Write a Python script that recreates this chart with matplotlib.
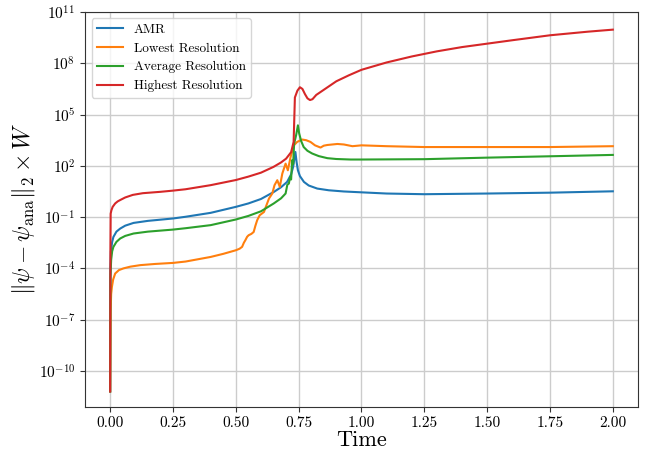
"""
plot.py - L2 error of psi against the analytic solution, AMR vs fixed resolutions.
"""
import numpy as np
import matplotlib
matplotlib.use("Agg")
import matplotlib.pyplot as plt
from matplotlib.ticker import FixedLocator, NullLocator

plt.rcParams["font.family"] = "serif"
plt.rcParams["font.serif"] = ["cmr10"]
plt.rcParams["mathtext.fontset"] = "cm"
plt.rcParams["axes.unicode_minus"] = False
plt.rcParams["axes.formatter.use_mathtext"] = True

# values, stored as log10 of the error
t_amr = [0.0, 0.001, 0.003, 0.008, 0.013, 0.025, 0.04, 0.06, 0.093, 0.15, 0.25, 0.3,
         0.4, 0.5, 0.55, 0.6, 0.651, 0.68, 0.704, 0.72, 0.728, 0.737, 0.742, 0.747,
         0.755, 0.771, 0.79, 0.824, 0.87, 0.93, 1.0, 1.1, 1.25, 1.5, 1.75, 2.0]
log_amr = [-11.2, -4.0, -3.0, -2.45, -2.16, -1.85, -1.67, -1.5, -1.34, -1.22, -1.08, -0.98,
           -0.75, -0.4, -0.2, 0.06, 0.47, 0.75, 1.06, 1.5, 1.94, 2.81, 2.2, 1.74,
           1.4, 1.06, 0.85, 0.67, 0.57, 0.5, 0.45, 0.38, 0.34, 0.38, 0.43, 0.51]

t_low = [0.0, 0.002, 0.004, 0.007, 0.012, 0.02, 0.035, 0.053, 0.08, 0.12, 0.18, 0.25,
         0.3, 0.4, 0.45, 0.5, 0.515, 0.525, 0.532, 0.538, 0.545, 0.551, 0.562, 0.571,
         0.578, 0.585, 0.595, 0.612, 0.622, 0.632, 0.645, 0.654, 0.665, 0.675, 0.685,
         0.698, 0.707, 0.718, 0.731, 0.744, 0.764, 0.78, 0.797, 0.815, 0.837, 0.85,
         0.864, 0.904, 0.93, 0.964, 1.0, 1.1, 1.25, 1.5, 1.75, 2.0]
log_low = [-11.2, -6.5, -5.5, -5.08, -4.65, -4.3, -4.1, -4.0, -3.9, -3.81, -3.74, -3.68,
           -3.6, -3.33, -3.15, -2.94, -2.85, -2.74, -2.5, -2.35, -2.15, -2.06, -1.98, -1.87,
           -1.5, -1.18, -0.89, -0.7, -0.3, 0.09, 0.38, 0.87, 1.16, 0.77, 1.55,
           2.13, 1.74, 2.52, 3.2, 3.4, 3.54, 3.5, 3.4, 3.2, 3.07, 3.18,
           3.22, 3.28, 3.25, 3.15, 3.2, 3.15, 3.1, 3.1, 3.1, 3.15]

t_avg = [0.0, 0.001, 0.004, 0.008, 0.013, 0.025, 0.04, 0.06, 0.093, 0.15, 0.25, 0.3,
         0.4, 0.5, 0.55, 0.6, 0.651, 0.68, 0.698, 0.705, 0.711, 0.716, 0.72, 0.724,
         0.728, 0.732, 0.74, 0.747, 0.752, 0.76, 0.77, 0.785, 0.804, 0.83, 0.864,
         0.9, 0.957, 1.0, 1.25, 1.5, 1.75, 2.0]
log_avg = [-11.2, -4.5, -3.5, -3.0, -2.74, -2.45, -2.25, -2.1, -1.96, -1.85, -1.73, -1.65,
           -1.47, -1.14, -0.93, -0.66, -0.2, 0.1, 0.38, 0.9, 0.96, 1.35, 1.2, 2.33,
           2.1, 3.3, 3.8, 4.37, 3.9, 3.45, 3.1, 2.88, 2.72, 2.57, 2.45,
           2.4, 2.37, 2.37, 2.39, 2.48, 2.56, 2.64]

t_high = [0.0, 0.001, 0.002, 0.005, 0.01, 0.02, 0.03, 0.04, 0.06, 0.09, 0.13, 0.2,
          0.25, 0.3, 0.4, 0.5, 0.55, 0.6, 0.65, 0.68, 0.7, 0.72, 0.73, 0.735, 0.745,
          0.755, 0.765, 0.775, 0.785, 0.795, 0.805, 0.82, 0.85, 0.9, 0.95, 1.0, 1.1,
          1.2, 1.3, 1.4, 1.5, 1.6, 1.75, 1.9, 2.0]
log_high = [-11.2, -3.0, -0.8, -0.6, -0.4, -0.2, -0.08, 0.0, 0.15, 0.3, 0.4, 0.48,
            0.55, 0.63, 0.87, 1.17, 1.37, 1.6, 1.94, 2.2, 2.42, 2.8, 3.4, 6.0, 6.4,
            6.6, 6.5, 6.2, 5.95, 5.85, 5.9, 6.15, 6.45, 6.95, 7.3, 7.62, 8.05,
            8.4, 8.7, 8.95, 9.15, 9.35, 9.64, 9.85, 9.97]

series = [
    ("AMR", t_amr, log_amr, "#1f77b4"),
    ("Lowest Resolution", t_low, log_low, "#ff7f0e"),
    ("Average Resolution", t_avg, log_avg, "#2ca02c"),
    ("Highest Resolution", t_high, log_high, "#d62728"),
]
y_ticks = [1e-10, 1e-7, 1e-4, 1e-1, 1e2, 1e5, 1e8, 1e11]

fig, ax = plt.subplots(figsize=(6.49, 4.5), dpi=100)
fig.subplots_adjust(left=0.131, right=0.983, top=0.974, bottom=0.096)

for label, t, logv, color in series:
    ax.plot(t, 10.0 ** np.array(logv), color=color, linewidth=1.5, label=label)

ax.set_yscale("log")
ax.set_xlim(-0.1, 2.1)
ax.set_ylim(10 ** -12.1, 10 ** 11.02)
ax.yaxis.set_major_locator(FixedLocator(y_ticks))
ax.yaxis.set_minor_locator(NullLocator())
ax.set_xticks([0.0, 0.25, 0.5, 0.75, 1.0, 1.25, 1.5, 1.75, 2.0])
ax.set_xticklabels(["0.00", "0.25", "0.50", "0.75", "1.00", "1.25", "1.50", "1.75", "2.00"])

ax.grid(True, color="#cccccc", linewidth=1.0)
ax.set_axisbelow(True)
for spine in ax.spines.values():
    spine.set_color("#333333")
ax.tick_params(labelsize=11, length=3.5, color="#333333")

ax.set_xlabel("Time", fontsize=16, labelpad=0)
ax.set_ylabel(r"$\|\psi - \psi_{\mathrm{ana}}\|_2 \times W$", fontsize=17, labelpad=1)
ax.legend(loc="upper left", fontsize=9.5, framealpha=0.8)

fig.savefig("out.png", dpi=100)
plt.close(fig)
